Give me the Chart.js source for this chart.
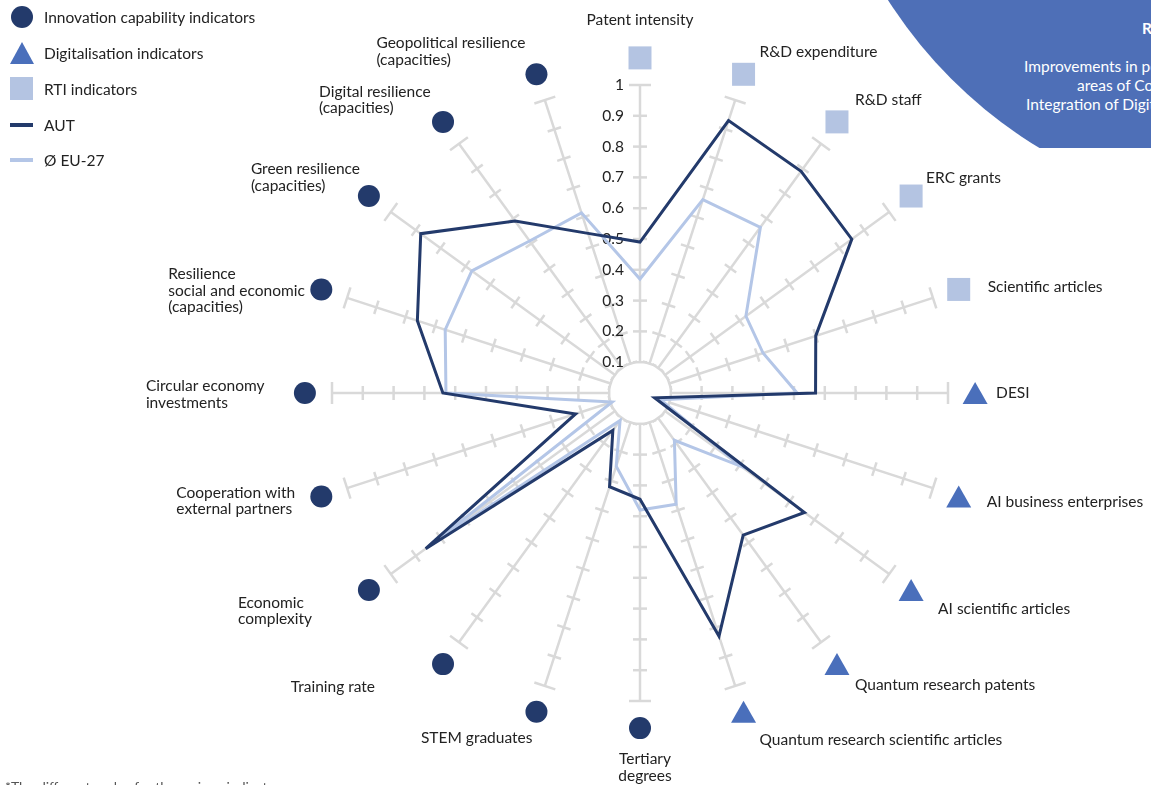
<!DOCTYPE html>
<html>
<head>
<meta charset="utf-8">
<script src="https://cdn.jsdelivr.net/npm/chart.js@4.4.1/dist/chart.umd.min.js"></script>
<style>
  html, body { margin: 0; padding: 0; background: #fff; overflow: hidden; }
  #wrap { position: relative; width: 1151px; height: 785px; overflow: hidden;
          font-family: Lato, "Noto Sans", sans-serif; color: #222; }
  #chart { position: absolute; left: 0; top: 0; }
  .lg { position: absolute; left: 44px; font-size: 15.5px; line-height: 18px; transform: translateY(-50%); white-space: nowrap; }
  .mk { position: absolute; }
  #blobClip { position: absolute; left: 0; top: 0; width: 1151px; height: 148px; overflow: hidden; }
  #blob { position: absolute; left: 815px; top: -715px; width: 930px; height: 930px; border-radius: 50%; background: #4e6fb7; }
  .bt { position: absolute; color: #fff; font-size: 15.5px; white-space: nowrap; transform: translateY(-50%); }
  #note { position: absolute; left: 5px; top: 778px; font-size: 14px; color: #555; white-space: nowrap; }
</style>
</head>
<body>
<div id="wrap">
  <div id="blobClip">
    <div id="blob"></div>
    <span class="bt" style="left:1142px;top:28px;font-weight:bold">RTI Strategy</span>
    <span class="bt" style="left:1024px;top:66px">Improvements in positioning</span>
    <span class="bt" style="left:1077px;top:85px">areas of Competence</span>
    <span class="bt" style="left:1026px;top:104px">Integration of Digitalisation</span>
  </div>

  <canvas id="chart" width="1151" height="785"></canvas>

  <!-- legend -->
  <div class="mk" style="left:11px;top:6px;width:22px;height:22px;border-radius:50%;background:#233a6b"></div>
  <div class="lg" style="top:17px">Innovation capability indicators</div>
  <div class="mk" style="left:10px;top:42px;width:0;height:0;border-left:12.5px solid transparent;border-right:12.5px solid transparent;border-bottom:22px solid #4a6fbb"></div>
  <div class="lg" style="top:53px">Digitalisation indicators</div>
  <div class="mk" style="left:10px;top:77px;width:23px;height:23px;background:#b4c4e2"></div>
  <div class="lg" style="top:89px">RTI indicators</div>
  <div class="mk" style="left:10px;top:123px;width:23px;height:4px;background:#233a6b"></div>
  <div class="lg" style="top:125px">AUT</div>
  <div class="mk" style="left:10px;top:158px;width:23px;height:4px;background:#b4c6e7"></div>
  <div class="lg" style="top:160px">Ø EU-27</div>

  <div id="note">*The different scales for the various indicators</div>
</div>

<script>
// categories, clockwise from the top
const categories = [
  ["Patent intensity"],
  ["R&D expenditure"],
  ["R&D staff"],
  ["ERC grants"],
  ["Scientific articles"],
  ["DESI"],
  ["AI business enterprises"],
  ["AI scientific articles"],
  ["Quantum research patents"],
  ["Quantum research scientific articles"],
  ["Tertiary", "degrees"],
  ["STEM graduates"],
  ["Training rate"],
  ["Economic", "complexity"],
  ["Cooperation with", "external partners"],
  ["Circular economy", "investments"],
  ["Resilience", "social and economic", "(capacities)"],
  ["Green resilience", "(capacities)"],
  ["Digital resilience", "(capacities)"],
  ["Geopolitical resilience", "(capacities)"]
]

// indicator group per category: rti / digi / inno
const groups = [
  "rti", "rti", "rti", "rti", "rti",
  "digi", "digi", "digi", "digi", "digi",
  "inno", "inno", "inno", "inno", "inno", "inno", "inno", "inno", "inno", "inno"
]

const autValues = [0.49, 0.93, 0.89, 0.85, 0.60, 0.57, 0.05, 0.66, 0.57, 0.83,
                   0.345, 0.32, 0.15, 0.86, 0.22, 0.64, 0.76, 0.88, 0.69, 0.545]
const euValues  = [0.37, 0.66, 0.665, 0.425, 0.42, 0.51, 0.07, 0.405, 0.19, 0.38,
                   0.38, 0.25, 0.11, 0.83, 0.095, 0.63, 0.665, 0.675, 0.61, 0.615]

const tickValues = [0.1, 0.2, 0.3, 0.4, 0.5, 0.6, 0.7, 0.8, 0.9, 1]
const tickLabels = ["0.1", "0.2", "0.3", "0.4", "0.5", "0.6", "0.7", "0.8", "0.9", "1"]

// where each category label sits relative to its marker: [dx, dy, align]
const labelPlacement = [
  [0, -38, "center"], [16, -22, "left"], [18, -22, "left"], [15, -18, "left"],
  [29, -2, "left"], [21, 0, "left"], [28, 5, "left"], [27, 19, "left"],
  [18, 21, "left"], [16, 28, "left"], [5, 31, "center"], [-4, 26, "right"],
  [-68, 23, "right"], [-131, 13, "left"], [-145, -4, "left"], [-159, -7, "left"],
  [-153, -15, "left"], [-118, -27, "left"], [-124, -30, "left"], [-160, -31, "left"]
]

const NAVY = "#233a6b"
const LIGHT = "#b4c6e7"
const markerColors = { inno: "#233a6b", digi: "#4a6fbb", rti: "#b4c4e2" }
const FONT = "15.5px Lato, 'Noto Sans', sans-serif"
const TICK_FONT = "15.5px Lato, 'Noto Sans', sans-serif"

// spokes with tick marks, value labels, then markers and category labels.
// Everything is placed through the radial scale so it follows the chart.
const radarDecor = {
  id: "radarDecor",
  beforeDatasetsDraw(chart) {
    const s = chart.scales.r
    const ctx = chart.ctx
    const n = chart.data.labels.length
    ctx.save()
    ctx.strokeStyle = "#d9d9d9"
    ctx.lineWidth = 2.5
    for (let i = 0; i < n; i++) {
      const a = s.getPointPosition(i, s.getDistanceFromCenterForValue(tickValues[0]))
      const b = s.getPointPosition(i, s.getDistanceFromCenterForValue(1))
      ctx.beginPath(); ctx.moveTo(a.x, a.y); ctx.lineTo(b.x, b.y); ctx.stroke()
      const px = -Math.sin(b.angle), py = Math.cos(b.angle)
      tickValues.forEach((v, k) => {
        const p = s.getPointPosition(i, s.getDistanceFromCenterForValue(v))
        const h = k === tickValues.length - 1 ? 11 : 7
        ctx.beginPath()
        ctx.moveTo(p.x - px * h, p.y - py * h)
        ctx.lineTo(p.x + px * h, p.y + py * h)
        ctx.stroke()
      })
    }
    ctx.fillStyle = "#222"
    ctx.font = TICK_FONT
    ctx.textAlign = "right"
    ctx.textBaseline = "middle"
    tickValues.forEach((v, k) => {
      const p = s.getPointPosition(0, s.getDistanceFromCenterForValue(v))
      ctx.fillText(tickLabels[k], p.x - 16, p.y)
    })
    ctx.restore()
  },
  afterDatasetsDraw(chart) {
    const s = chart.scales.r
    const ctx = chart.ctx
    ctx.save()
    chart.data.labels.forEach((lines, i) => {
      const m = s.getPointPosition(i, s.getDistanceFromCenterForValue(1.088))
      const g = groups[i]
      ctx.fillStyle = markerColors[g]
      ctx.beginPath()
      if (g === "inno") {
        ctx.arc(m.x, m.y, 11, 0, Math.PI * 2)
      } else if (g === "digi") {
        ctx.moveTo(m.x, m.y - 11)
        ctx.lineTo(m.x + 12.5, m.y + 11)
        ctx.lineTo(m.x - 12.5, m.y + 11)
        ctx.closePath()
      } else {
        ctx.rect(m.x - 11.5, m.y - 11.5, 23, 23)
      }
      ctx.fill()

      const [dx, dy, align] = labelPlacement[i]
      ctx.fillStyle = "#222"
      ctx.font = FONT
      ctx.textAlign = align
      ctx.textBaseline = "middle"
      lines.forEach((t, k) => ctx.fillText(t, m.x + dx, m.y + dy + k * 16.5))
    })
    ctx.restore()
  }
}

new Chart(document.getElementById("chart"), {
  type: "radar",
  data: {
    labels: categories,
    datasets: [
      { label: "AUT", data: autValues, borderColor: NAVY, borderWidth: 3, fill: false },
      { label: "Ø EU-27", data: euValues, borderColor: LIGHT, borderWidth: 3, fill: false }
    ]
  },
  options: {
    responsive: false,
    animation: false,
    layout: { padding: { left: 332, right: 203, top: 85, bottom: 84 } },
    plugins: { legend: { display: false }, tooltip: { enabled: false } },
    elements: {
      line: { tension: 0, borderJoinStyle: "miter" },
      point: { radius: 0, hoverRadius: 0 }
    },
    scales: {
      r: {
        min: 0, max: 1,
        ticks: { display: false },
        grid: { display: false },
        angleLines: { display: false },
        pointLabels: { display: false }
      }
    }
  },
  plugins: [radarDecor]
})
</script>
</body>
</html>
